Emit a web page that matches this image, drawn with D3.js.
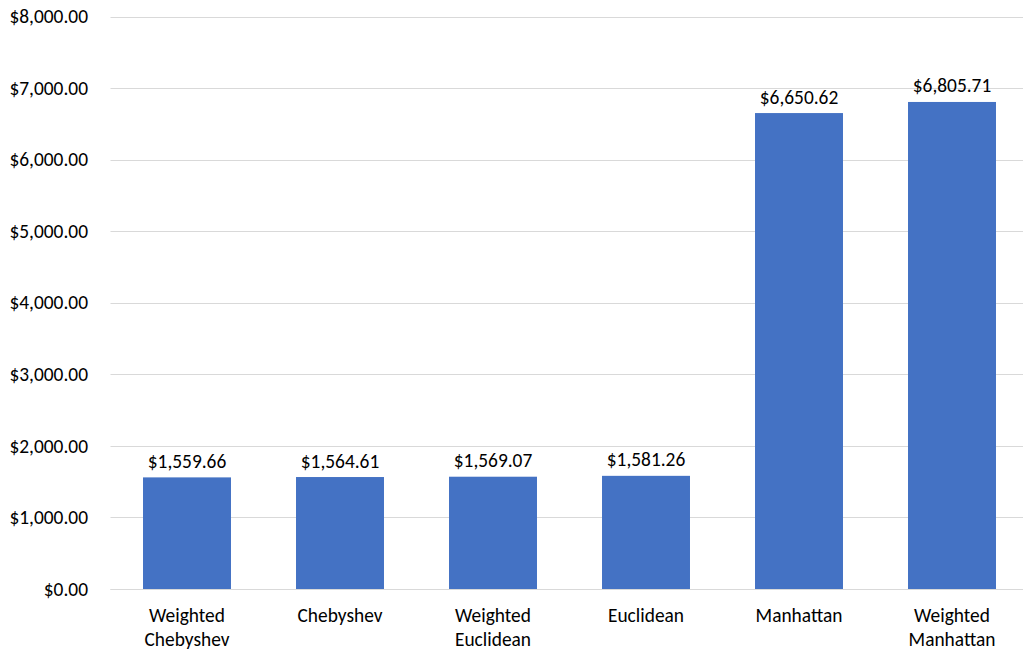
<!DOCTYPE html>
<html>
<head>
<meta charset="utf-8">
<script src="https://cdn.jsdelivr.net/npm/d3@7"></script>
<style>
  html, body { margin: 0; padding: 0; background: #fff; }
  svg { display: block; font-family: Carlito, Lato, "Liberation Sans", sans-serif; }
</style>
</head>
<body>
<svg id="chart" width="1023" height="649"></svg>
<script>
// Distance metrics and their cost
const categories = [
  ["Weighted", "Chebyshev"],
  ["Chebyshev"],
  ["Weighted", "Euclidean"],
  ["Euclidean"],
  ["Manhattan"],
  ["Weighted", "Manhattan"]
];
const values = [1559.66, 1564.61, 1569.07, 1581.26, 6650.62, 6805.71];
const yTicks = [0, 1000, 2000, 3000, 4000, 5000, 6000, 7000, 8000];

const FONT = 19.4;
const svg = d3.select("#chart");
const margin = { left: 110.5, right: -5.5, top: 16.5, bottom: 60 };
const W = 1023, H = 649;

const keys = categories.map(c => c.join(" "));
const x = d3.scaleBand()
  .domain(keys)
  .range([margin.left, W - margin.right])
  .paddingInner(0.425)
  .paddingOuter(0.2125);

const y = d3.scaleLinear()
  .domain([0, 8000])
  .range([H - margin.bottom, margin.top]);

const money = d3.format("$,.2f");

// Gridlines
svg.append("g")
  .selectAll("line")
  .data(yTicks)
  .join("line")
  .attr("x1", margin.left)
  .attr("x2", W)
  .attr("y1", d => Math.round(y(d)) + 0.5)
  .attr("y2", d => Math.round(y(d)) + 0.5)
  .attr("stroke", "#d9d9d9")
  .attr("stroke-width", 1);

// Y axis labels
const yAxis = svg.append("g")
  .attr("transform", `translate(${88},0)`)
  .call(d3.axisLeft(y).tickValues(yTicks).tickFormat(money).tickSize(0).tickPadding(0));
yAxis.select(".domain").remove();
yAxis.selectAll("text")
  .attr("font-size", FONT)
  .attr("font-family", "Carlito, Lato, 'Liberation Sans', sans-serif")
  .attr("fill", "#000");

// Bars
svg.append("g")
  .selectAll("rect")
  .data(values)
  .join("rect")
  .attr("x", (d, i) => x(keys[i]))
  .attr("width", x.bandwidth())
  .attr("y", d => y(d))
  .attr("height", d => y(0) - y(d))
  .attr("fill", "#4472c4");

// Baseline redrawn over bars
svg.append("line")
  .attr("x1", margin.left).attr("x2", W)
  .attr("y1", Math.round(y(0)) + 0.5).attr("y2", Math.round(y(0)) + 0.5)
  .attr("stroke", "#d9d9d9");

// Value labels
svg.append("g")
  .selectAll("text")
  .data(values)
  .join("text")
  .attr("x", (d, i) => x(keys[i]) + x.bandwidth() / 2)
  .attr("y", d => y(d) - 9.5)
  .attr("text-anchor", "middle")
  .attr("font-size", FONT)
  .attr("fill", "#000")
  .text(d => money(d));

// Category labels
const cat = svg.append("g")
  .selectAll("text")
  .data(categories)
  .join("text")
  .attr("x", (d, i) => x(keys[i]) + x.bandwidth() / 2)
  .attr("y", 621.5)
  .attr("text-anchor", "middle")
  .attr("font-size", FONT)
  .attr("fill", "#000");
cat.selectAll("tspan")
  .data(d => d)
  .join("tspan")
  .attr("x", function () { return this.parentNode.getAttribute("x"); })
  .attr("dy", (d, i) => i === 0 ? 0 : 24)
  .text(d => d);
</script>
</body>
</html>
